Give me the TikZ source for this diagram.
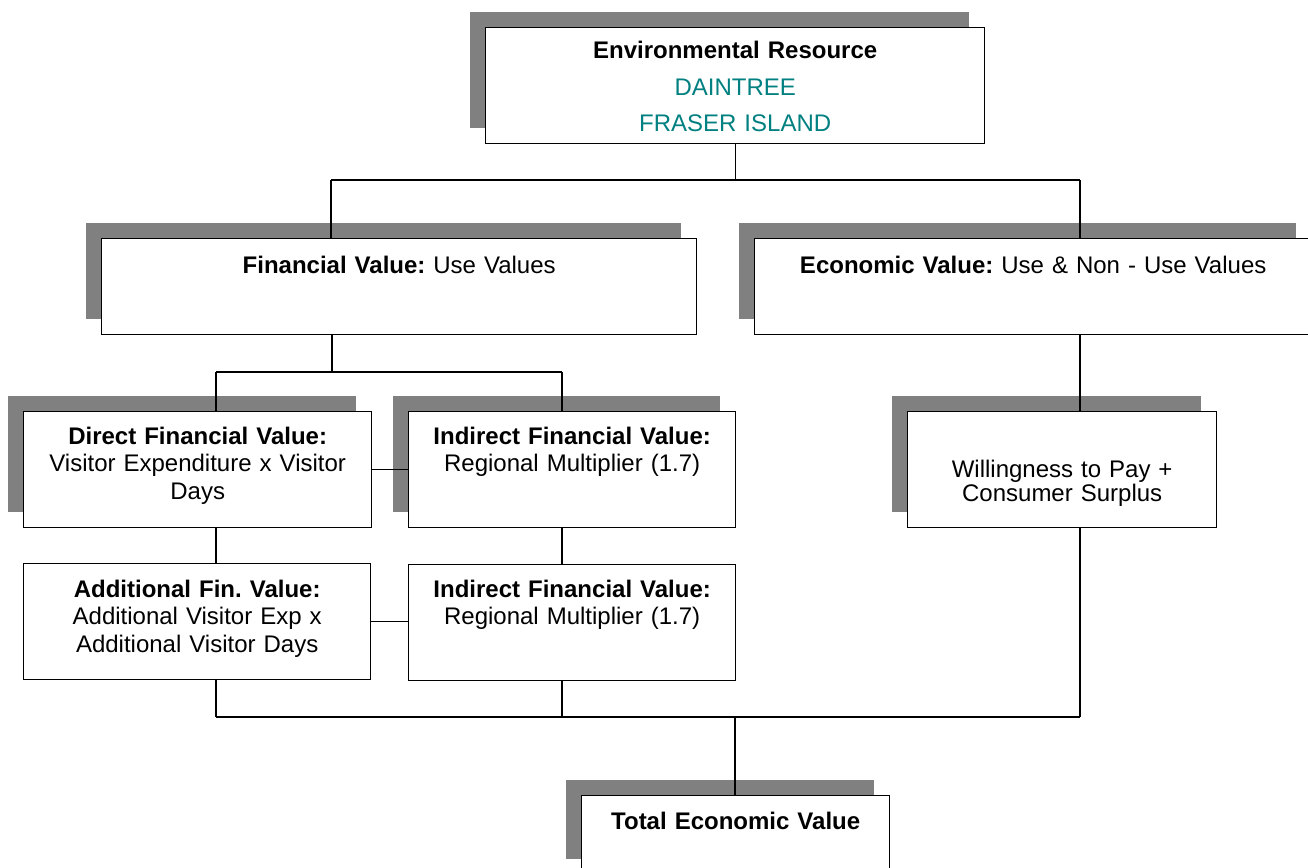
\documentclass[tikz,border=0pt]{standalone}
\usepackage{fontspec}
\setmainfont{Liberation Sans}
\usetikzlibrary{shadows}
\definecolor{resteal}{RGB}{0,128,128}
\definecolor{shadowgray}{RGB}{128,128,128}
\frenchspacing

\begin{document}
\begin{tikzpicture}[x=0.75pt, y=-0.75pt,
  cell/.style={draw, line width=1pt, fill=white, inner sep=0pt, align=center,
    text width=#1, text height=24.5pt, anchor=north west,
    font=\fontsize{18pt}{20.6pt}\selectfont},
  shadowed/.style={general shadow={fill=shadowgray, shadow xshift=-12pt, shadow yshift=12pt}},
  link/.style={line width=0.8pt}]
\useasboundingbox (0,0) rectangle (1308,867);

\node[cell=374.25pt, shadowed, text height=23.5pt, text depth=63.5pt,
  font=\fontsize{18pt}{27.2pt}\selectfont] (env) at (485,27)
  {\textbf{Environmental Resource}\\ \textcolor{resteal}{DAINTREE}\\ \textcolor{resteal}{FRASER ISLAND}};

\node[cell=446.25pt, shadowed, text height=26pt, text depth=46pt] (fin) at (101,238)
  {\textbf{Financial Value:} Use Values};
\node[cell=417.75pt, shadowed, text height=26pt, text depth=46pt] (eco) at (754,238)
  {\textbf{Economic Value:} Use \& Non - Use Values};

\node[cell=261pt, shadowed, text depth=62.5pt] (direct) at (23,411)
  {\textbf{Direct Financial Value:}\\ Visitor Expenditure x Visitor\\ Days};
\node[cell=245.25pt, shadowed, text depth=62.5pt] (ind1) at (408,411)
  {\textbf{Indirect Financial Value:}\\ Regional Multiplier (1.7)};
\node[cell=231.75pt, shadowed, text height=49.3pt, text depth=37.7pt,
  font=\fontsize{18pt}{15.5pt}\selectfont] (will) at (907,411)
  {Willingness to Pay +\\ Consumer Surplus};

\node[cell=260.25pt, text height=25.3pt, text depth=61.7pt] (add) at (23,563)
  {\textbf{Additional Fin. Value:}\\ Additional Visitor Exp x\\ Additional Visitor Days};
\node[cell=245.25pt, text depth=62.5pt] (ind2) at (408,564)
  {\textbf{Indirect Financial Value:}\\ Regional Multiplier (1.7)};

\node[cell=231pt, shadowed, text height=25pt, text depth=34.25pt] (total) at (581,795)
  {\textbf{Total Economic Value}};

% junctions
\coordinate (topL) at (331,180);
\coordinate (topR) at (1080,180);
\coordinate (midC) at (332,372);
\coordinate (midL) at (216,372);
\coordinate (midR) at (562,372);
\coordinate (botL) at (216,717);
\coordinate (botM) at (562,717);
\coordinate (botR) at (1080,717);
\coordinate (botC) at (735,717);

\draw[link] (env.south) -- (env.south |- topL);
\draw[link] (topL) -- (topR);
\draw[link] (topL) -- (topL |- fin.north);
\draw[link] (topR) -- (topR |- eco.north);

\draw[link] (midC |- fin.south) -- (midC);
\draw[link] (midL) -- (midR);
\draw[link] (midL) -- (midL |- direct.north);
\draw[link] (midR) -- (midR |- ind1.north);
\draw[link] (topR |- eco.south) -- (topR |- will.north);

\draw[link] (direct.east) -- (ind1.west);
\draw[link] (midL |- direct.south) -- (midL |- add.north);
\draw[link] (midR |- ind1.south) -- (midR |- ind2.north);
\draw[link] (add.east) -- (add.east -| ind2.west);

\draw[link] (botL |- add.south) -- (botL);
\draw[link] (botM |- ind2.south) -- (botM);
\draw[link] (botR |- will.south) -- (botR);
\draw[link] (botL) -- (botR);
\draw[link] (botC) -- (botC |- total.north);
\end{tikzpicture}
\end{document}
